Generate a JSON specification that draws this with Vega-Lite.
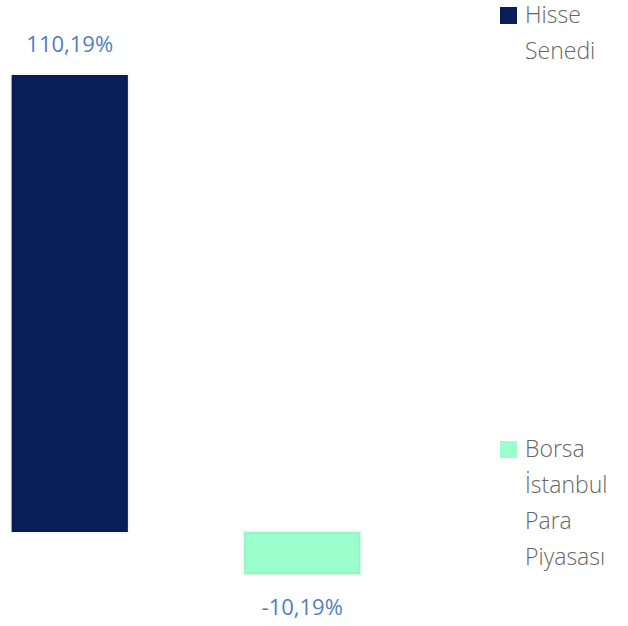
{
  "$schema": "https://vega.github.io/schema/vega-lite/v6.json",
  "width": 628,
  "height": 626,
  "padding": 0,
  "autosize": {"type": "none"},
  "background": "white",
  "data": {"values": [
    {"seri": "Hisse Senedi", "deger": 110.19, "etiket": "110,19%"},
    {"seri": "Borsa İstanbul Para Piyasası", "deger": -10.19, "etiket": "-10,19%"}
  ]},
  "encoding": {
    "x": {"field": "seri", "type": "nominal", "sort": null, "axis": null,
          "scale": {"paddingInner": 0.5, "paddingOuter": 0.05, "range": [0, 372]}},
    "y": {"field": "deger", "type": "quantitative", "axis": null,
          "scale": {"domain": [-22.67, 128.28], "nice": false, "zero": false}}
  },
  "layer": [
    {
      "mark": {"type": "bar", "stroke": "#000000", "strokeOpacity": 0.04, "strokeWidth": 4},
      "encoding": {
        "color": {"field": "seri", "type": "nominal", "sort": null,
          "scale": {"domain": ["Hisse Senedi", "Borsa İstanbul Para Piyasası"], "range": ["#081e5a", "#9affcc"]},
          "legend": {
            "title": null, "orient": "none", "legendX": 497, "legendY": 4,
            "symbolType": "square", "symbolSize": 289, "symbolStrokeWidth": 0,
            "labelFont": "Open Sans", "labelFontSize": 23, "labelFontWeight": 300, "labelColor": "#666666",
            "labelOffset": 5, "labelLimit": 200, "rowPadding": 374,
            "labelExpr": "split(datum.label, ' ')"
          }
        }
      }
    },
    {
      "transform": [{"filter": "datum.deger >= 0"}],
      "mark": {"type": "text", "dy": -30, "font": "Open Sans", "fontSize": 22, "color": "#4f7fc0", "baseline": "middle"},
      "encoding": {"text": {"field": "etiket"}}
    },
    {
      "transform": [{"filter": "datum.deger < 0"}],
      "mark": {"type": "text", "dy": 34, "font": "Open Sans", "fontSize": 22, "color": "#4f7fc0", "baseline": "middle"},
      "encoding": {"text": {"field": "etiket"}}
    }
  ],
  "config": {
    "view": {"stroke": null},
    "style": {"guide-label": {"lineHeight": 36}}
  }
}
